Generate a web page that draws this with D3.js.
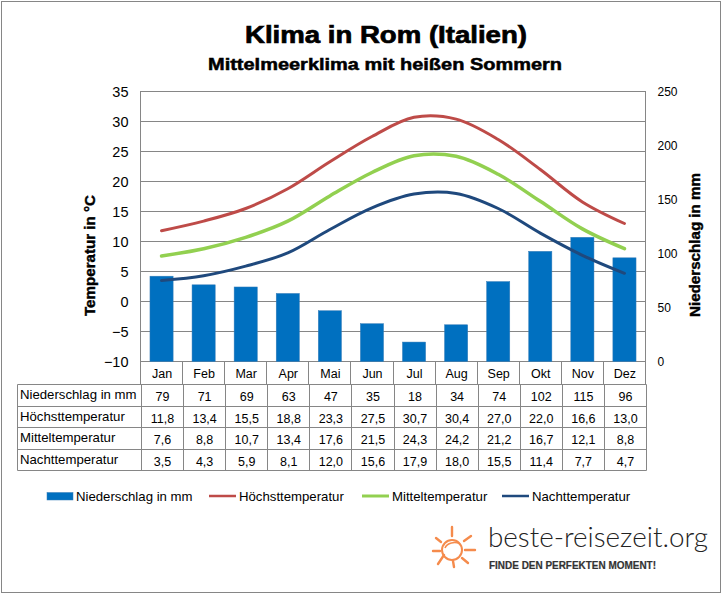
<!DOCTYPE html>
<html>
<head>
<meta charset="utf-8">
<script src="https://cdn.jsdelivr.net/npm/d3@7"></script>
<style>
  html, body { margin: 0; padding: 0; background: #fff; }
  svg { display: block; }
  text { font-family: "Liberation Sans", Arial, sans-serif; fill: #000; }
</style>
</head>
<body>
<div id="chart"></div>
<script>
const months = ['Jan', 'Feb', 'Mar', 'Apr', 'Mai', 'Jun', 'Jul', 'Aug', 'Sep', 'Okt', 'Nov', 'Dez'];
const niederschlag = [79, 71, 69, 63, 47, 35, 18, 34, 74, 102, 115, 96];
const hoechst = [11.8, 13.4, 15.5, 18.8, 23.3, 27.5, 30.7, 30.4, 27.0, 22.0, 16.6, 13.0];
const mittel = [7.6, 8.8, 10.7, 13.4, 17.6, 21.5, 24.3, 24.2, 21.2, 16.7, 12.1, 8.8];
const nacht = [3.5, 4.3, 5.9, 8.1, 12.0, 15.6, 17.9, 18.0, 15.5, 11.4, 7.7, 4.7];
const tempTicks = [-10, -5, 0, 5, 10, 15, 20, 25, 30, 35];
const rainTicks = [0, 50, 100, 150, 200, 250];

const width = 722, height = 594;
const grey = '#868686';
const plot = { left: 140.5, right: 645.5, top: 91.5, bottom: 361.5 };
const crisp = v => Math.round(v - 0.5) + 0.5;

const svg = d3.select('#chart').append('svg')
    .attr('width', width)
    .attr('height', height);

// outer frame
svg.append('rect')
    .attr('x', 1.5).attr('y', 1.5)
    .attr('width', 719).attr('height', 591)
    .attr('fill', '#fff')
    .attr('stroke', grey);

// titles
svg.append('text')
    .attr('x', 245).attr('y', 42.5)
    .attr('font-size', 23.5).attr('font-weight', 'bold')
    .attr('stroke', '#000').attr('stroke-width', 0.7)
    .attr('textLength', 282).attr('lengthAdjust', 'spacingAndGlyphs')
    .text('Klima in Rom (Italien)');
svg.append('text')
    .attr('x', 208).attr('y', 69.5)
    .attr('font-size', 16.5).attr('font-weight', 'bold')
    .attr('stroke', '#000').attr('stroke-width', 0.5)
    .attr('textLength', 354).attr('lengthAdjust', 'spacingAndGlyphs')
    .text('Mittelmeerklima mit heißen Sommern');

const x = d3.scaleBand().domain(months).range([plot.left, plot.right]).paddingInner(0.45).paddingOuter(0.225);
const xPoint = d3.scaleBand().domain(months).range([plot.left, plot.right]);
const yTemp = d3.scaleLinear().domain([-10, 35]).range([plot.bottom, plot.top]);
const yRain = d3.scaleLinear().domain([0, 250]).range([plot.bottom, plot.top]);

// gridlines
svg.append('g').selectAll('line')
    .data(tempTicks)
    .enter().append('line')
    .attr('x1', plot.left).attr('x2', plot.right)
    .attr('y1', d => yTemp(d)).attr('y2', d => yTemp(d))
    .attr('stroke', grey);

svg.append('rect')
    .attr('x', plot.left).attr('y', plot.top)
    .attr('width', plot.right - plot.left).attr('height', plot.bottom - plot.top)
    .attr('fill', 'none').attr('stroke', grey);

// left axis
const leftAxis = svg.append('g')
    .attr('transform', `translate(${plot.left},0)`)
    .call(d3.axisLeft(yTemp).tickValues(tempTicks).tickSize(0).tickPadding(12));
leftAxis.select('.domain').remove();
leftAxis.selectAll('text').attr('font-size', 14.5).attr('font-family', '"Liberation Sans"').attr('dy', '0.33em');

// right axis
const rightAxis = svg.append('g')
    .attr('transform', `translate(${plot.right},0)`)
    .call(d3.axisRight(yRain).tickValues(rainTicks).tickSize(0).tickPadding(12));
rightAxis.select('.domain').remove();
rightAxis.selectAll('text').attr('font-size', 12).attr('font-family', '"Liberation Sans"').attr('dy', '0.33em');

// axis titles
svg.append('text')
    .attr('transform', 'translate(95,255.5) rotate(-90)')
    .attr('text-anchor', 'middle')
    .attr('font-size', 14).attr('font-weight', 'bold')
    .attr('stroke', '#000').attr('stroke-width', 0.4)
    .attr('textLength', 121).attr('lengthAdjust', 'spacingAndGlyphs')
    .text('Temperatur in °C');
svg.append('text')
    .attr('transform', 'translate(700,245) rotate(-90)')
    .attr('text-anchor', 'middle')
    .attr('font-size', 14).attr('font-weight', 'bold')
    .attr('stroke', '#000').attr('stroke-width', 0.4)
    .attr('textLength', 144).attr('lengthAdjust', 'spacingAndGlyphs')
    .text('Niederschlag in mm');

// bars
svg.append('g').selectAll('rect')
    .data(niederschlag)
    .enter().append('rect')
    .attr('x', (d, i) => x(months[i]))
    .attr('width', x.bandwidth())
    .attr('y', d => yRain(d))
    .attr('height', d => plot.bottom - yRain(d))
    .attr('fill', '#0070c0')
    .attr('stroke', '#357cb8')
    .attr('stroke-width', 0.5);

// temperature lines
const lineGen = d3.line()
    .x((d, i) => xPoint(months[i]) + xPoint.bandwidth() / 2)
    .y(d => yTemp(d))
    .curve(d3.curveCatmullRom.alpha(0.5));

const seriesLines = [
    { name: 'Höchsttemperatur', values: hoechst, color: '#be4b48', w: 3 },
    { name: 'Mitteltemperatur', values: mittel, color: '#92d050', w: 3.5 },
    { name: 'Nachttemperatur', values: nacht, color: '#1f497d', w: 3 }
];
seriesLines.forEach(s => {
    svg.append('path')
        .attr('d', lineGen(s.values))
        .attr('fill', 'none')
        .attr('stroke', s.color)
        .attr('stroke-width', s.w)
        .attr('stroke-linecap', 'round');
});

// month row under the plot
const rowsTop = 384.5;
const monthRow = svg.append('g');
months.forEach(m => {
    const left = crisp(xPoint(m));
    monthRow.append('line')
        .attr('x1', left).attr('x2', left)
        .attr('y1', plot.bottom).attr('y2', rowsTop)
        .attr('stroke', grey);
    monthRow.append('text')
        .attr('x', xPoint(m) + xPoint.bandwidth() / 2 + 0.5).attr('y', 378)
        .attr('text-anchor', 'middle')
        .attr('font-size', 12.5)
        .text(m);
});
monthRow.append('line')
    .attr('x1', plot.right).attr('x2', plot.right)
    .attr('y1', plot.bottom).attr('y2', rowsTop)
    .attr('stroke', grey);

// data table
const fmt = d => d.toFixed(1).replace('.', ',');
const tableRows = [
    { label: 'Niederschlag in mm', values: niederschlag.map(String) },
    { label: 'Höchsttemperatur', values: hoechst.map(fmt) },
    { label: 'Mitteltemperatur', values: mittel.map(fmt) },
    { label: 'Nachttemperatur', values: nacht.map(fmt) }
];
const rowY = d3.scaleBand().domain(tableRows.map(r => r.label)).range([rowsTop, 470.5]);
const tableLeft = 17.5, firstCol = 141.5, tableRight = 646.5;
const col = d3.scaleBand().domain(months).range([firstCol, tableRight]);
const table = svg.append('g');

tableRows.forEach(r => {
    const top = crisp(rowY(r.label));
    table.append('text')
        .attr('x', 20).attr('y', top + 14.5)
        .attr('font-size', 13.2)
        .text(r.label);
    r.values.forEach((v, i) => {
        table.append('text')
            .attr('x', col(months[i]) + col.bandwidth() / 2).attr('y', top + 16)
            .attr('text-anchor', 'middle')
            .attr('font-size', 12.5)
            .text(v);
    });
    table.append('line')
        .attr('x1', tableLeft).attr('x2', tableRight)
        .attr('y1', top).attr('y2', top)
        .attr('stroke', grey);
});
table.append('line')
    .attr('x1', tableLeft).attr('x2', tableRight)
    .attr('y1', 470.5).attr('y2', 470.5)
    .attr('stroke', grey);
[tableLeft, tableRight].concat(months.map(m => crisp(col(m)))).forEach(v => {
    table.append('line')
        .attr('x1', v).attr('x2', v)
        .attr('y1', rowsTop).attr('y2', 470.5)
        .attr('stroke', grey);
});

// legend
const legend = svg.append('g');
legend.append('rect')
    .attr('x', 47).attr('y', 492.5).attr('width', 26).attr('height', 7.5)
    .attr('fill', '#0070c0').attr('stroke', '#357cb8').attr('stroke-width', 0.5);
legend.append('text').attr('x', 76).attr('y', 501).attr('font-size', 13.2).text('Niederschlag in mm');

const legendX = [209, 362, 502];
seriesLines.forEach((s, i) => {
    legend.append('line')
        .attr('x1', legendX[i]).attr('x2', legendX[i] + 27)
        .attr('y1', 496).attr('y2', 496)
        .attr('stroke', s.color).attr('stroke-width', s.w - 0.5);
    legend.append('text')
        .attr('x', legendX[i] + 30).attr('y', 501)
        .attr('font-size', 13.2)
        .text(s.name);
});

// logo
const logo = svg.append('g').attr('transform', 'translate(452,550)');
const rays = [[0, -14, 0, -23], [12, -9, 19, -14], [13, 0, 23, 0], [10, 8, 16, 13], [1, 11, 2, 17], [-8, 5, -14, 14], [-12, 1, -19, 1], [-11, -8, -16, -12]];
rays.forEach(r => {
    logo.append('line')
        .attr('x1', r[0]).attr('y1', r[1]).attr('x2', r[2]).attr('y2', r[3])
        .attr('stroke', '#f58b4c').attr('stroke-width', 2.4).attr('stroke-linecap', 'round');
});
logo.append('circle').attr('r', 10).attr('fill', 'none').attr('stroke', '#f58b4c').attr('stroke-width', 2);
logo.append('path').attr('d', 'M-7,-2 C-5,-7 3,-9 8,-6').attr('fill', 'none').attr('stroke', '#f58b4c').attr('stroke-width', 1.6);

svg.append('text')
    .attr('x', 488).attr('y', 547)
    .style('font-family', 'Lato').style('font-weight', 300)
    .attr('font-size', 27).style('fill', '#222')
    .attr('textLength', 220).attr('lengthAdjust', 'spacingAndGlyphs')
    .text('beste-reisezeit.org');
svg.append('text')
    .attr('x', 489).attr('y', 569)
    .attr('font-size', 10.5).attr('font-weight', 'bold')
    .style('fill', '#333')
    .attr('stroke', '#333').attr('stroke-width', 0.2)
    .attr('textLength', 167).attr('lengthAdjust', 'spacingAndGlyphs')
    .text('FINDE DEN PERFEKTEN MOMENT!');
</script>
</body>
</html>
